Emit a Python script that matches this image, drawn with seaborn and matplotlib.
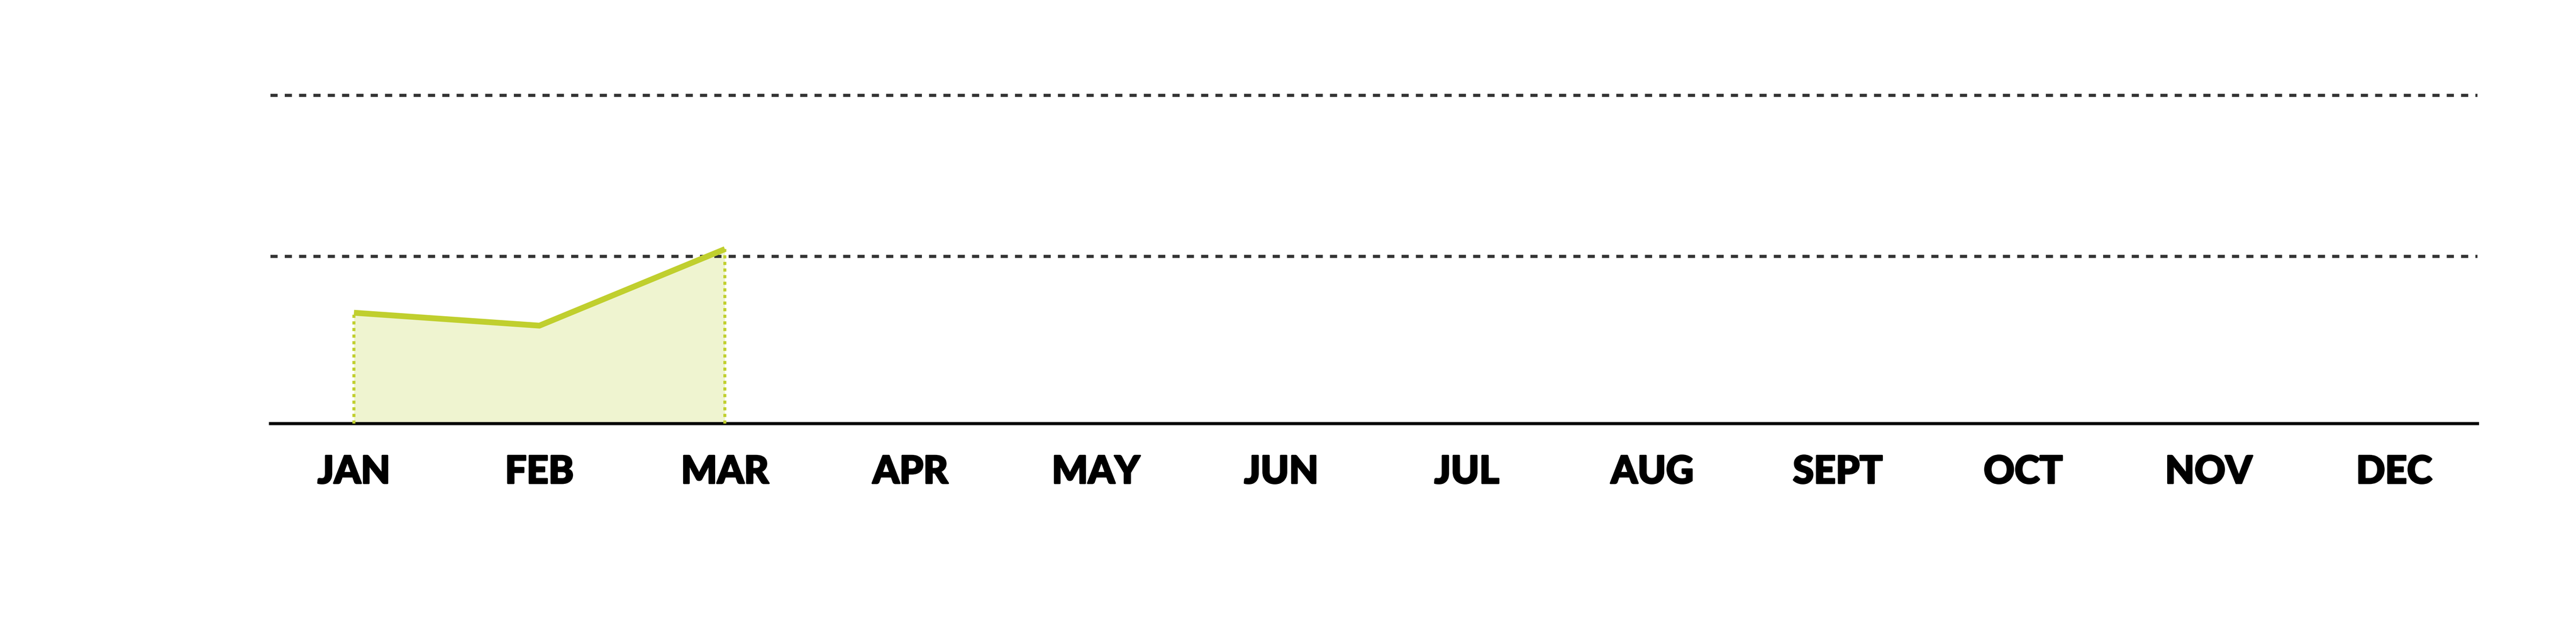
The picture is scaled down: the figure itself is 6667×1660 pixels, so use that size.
import numpy as np
import pandas as pd
import matplotlib
matplotlib.use("Agg")
import matplotlib.pyplot as plt
import matplotlib.patheffects as pe
import seaborn as sns

# data (only Jan-Mar have values)
months = ['JAN', 'FEB', 'MAR', 'APR', 'MAY', 'JUN', 'JUL', 'AUG', 'SEPT', 'OCT', 'NOV', 'DEC']
values = [650, 570, 1045, np.nan, np.nan, np.nan, np.nan, np.nan, np.nan, np.nan, np.nan, np.nan]
grid_levels = [1000, 2000]

df = pd.DataFrame({'month': months, 'pos': range(len(months)), 'value': values})
df_valid = df.dropna()

line_color = '#C0CF2E'
fill_color = '#EFF4D0'

sns.set_style("white")
plt.rcParams['font.family'] = ['Lato', 'DejaVu Sans']

fig = plt.figure(figsize=(66.67, 16.6), dpi=100)
ax = fig.add_axes([0.105, 0.3392, 0.8568, 0.5247])

y_bottom = -38
ax.set_xlim(-0.45, 11.45)
ax.set_ylim(y_bottom, 2050)

# area under the line down to the baseline
ax.fill_between(df_valid['pos'], df_valid['value'], y_bottom, color=fill_color, lw=0, zorder=1)

# dashed horizontal gridlines
for g in grid_levels:
    ax.axhline(g, color='#333333', lw=5.8, linestyle=(0, (2.3, 2.3)), zorder=2)

# dotted verticals at first and last point
ends = df_valid.iloc[[0, -1]]
ax.vlines(ends['pos'], y_bottom, ends['value'], colors=line_color, lw=5.6,
          linestyles=(0, (1.05, 1.15)), zorder=3)

sns.lineplot(data=df_valid, x='pos', y='value', color=line_color, lw=10.8,
             solid_capstyle='butt', ax=ax, zorder=4)

# axes styling
for side in ['top', 'right', 'left']:
    ax.spines[side].set_visible(False)
ax.spines['bottom'].set_color('black')
ax.spines['bottom'].set_linewidth(5.8)
ax.spines['bottom'].set_zorder(2.5)

ax.set_yticks([])
ax.set_xticks(df['pos'])
ax.set_xticklabels(df['month'], fontsize=71, fontweight='black', color='black')
for lbl in ax.get_xticklabels():
    lbl.set_path_effects([pe.withStroke(linewidth=3, foreground='black')])
ax.tick_params(axis='x', length=0, pad=58)
ax.set_xlabel('')
ax.set_ylabel('')

fig.savefig('out.png', dpi=100)
